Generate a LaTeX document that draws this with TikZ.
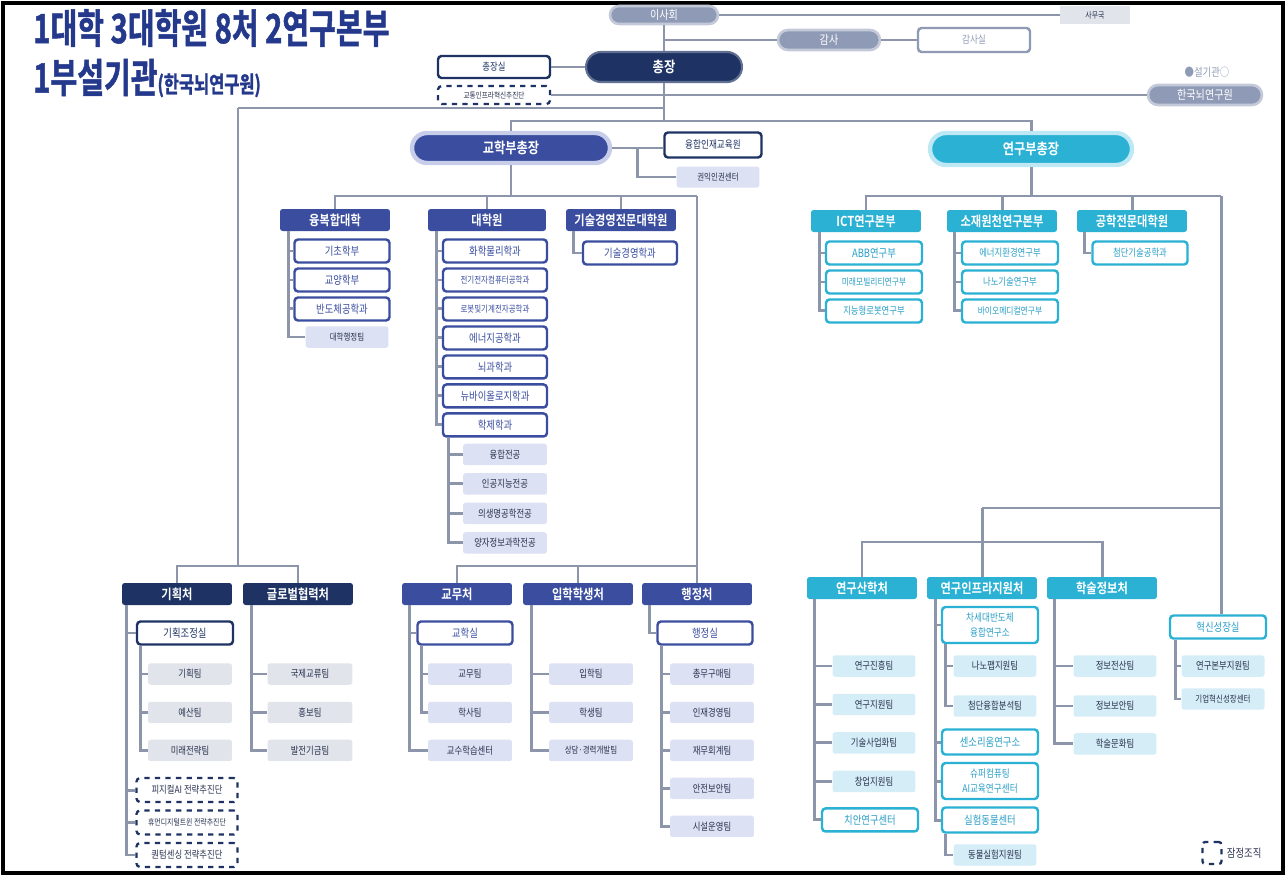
\documentclass[tikz,border=0pt]{standalone}
\usepackage{fontspec}
\setmainfont{Noto Sans CJK KR}[BoldFont={Noto Sans CJK KR Bold},FakeStretch=0.82]
\newfontfamily\titlefont{Noto Sans CJK KR Bold}[FakeStretch=0.72,FakeBold=1.2]
\usetikzlibrary{positioning}
\newcommand{\fsz}[1]{\fontsize{#1pt}{#1pt}\selectfont}
\definecolor{navy}{HTML}{1E3363}
\definecolor{royal}{HTML}{3A4D9F}
\definecolor{royalrim}{HTML}{C8CDEA}
\definecolor{cyanbox}{HTML}{2AB1D4}
\definecolor{cyanrim}{HTML}{BDE8F4}
\definecolor{cyantext}{HTML}{2A9FC6}
\definecolor{linegray}{HTML}{8C95AA}
\definecolor{pillgray}{HTML}{8F9BB6}
\definecolor{pillrim}{HTML}{C3C9D8}
\definecolor{lav}{HTML}{DCE1F3}
\definecolor{palegray}{HTML}{E1E4EA}
\definecolor{palecyan}{HTML}{D4EDF6}
\definecolor{titleblue}{HTML}{24398C}
\definecolor{darktext}{HTML}{2A3350}
\tikzstyle{graypill} = [rectangle, rounded corners=0.18cm, fill=pillgray, draw=pillrim, line width=1.5pt, text=white, font=\fsz{7}, inner sep=0pt, minimum height=0.38cm]
\tikzstyle{navyhead} = [rectangle, rounded corners=1.5pt, minimum width=2.2cm, minimum height=0.44cm, inner sep=0pt, fill=navy, text=white, font=\fsz{7.8}\bfseries]
\tikzstyle{bluehead} = [navyhead, fill=royal]
\tikzstyle{cyanhead} = [navyhead, fill=cyanbox]
\tikzstyle{dept} = [rectangle, rounded corners=2pt, minimum width=1.9cm, minimum height=0.46cm, inner sep=0pt, draw=royal, line width=1.4pt, fill=white, text=royal, font=\fsz{6.5}]
\tikzstyle{navydept} = [dept, draw=navy, text=navy]
\tikzstyle{cyandept} = [dept, draw=cyanbox, text=cyantext, minimum width=1.92cm]
\tikzstyle{lavteam} = [rectangle, rounded corners=1.5pt, minimum width=1.68cm, minimum height=0.43cm, inner sep=0pt, fill=lav, text=darktext, font=\fsz{5.8}]
\tikzstyle{grayteam} = [lavteam, fill=palegray]
\tikzstyle{cyanteam} = [lavteam, fill=palecyan, minimum width=1.66cm]
\tikzstyle{tempunit} = [rectangle, rounded corners=2pt, minimum width=2.02cm, minimum height=0.48cm, inner sep=0pt, draw=navy, dashed, line width=1.3pt, fill=white, text=darktext, font=\fsz{5.8}]
\tikzstyle{link} = [draw=linegray, line width=1.7pt]

\begin{document}
\begin{tikzpicture}[x=0.02cm, y=-0.02cm, node distance=0.58cm]
\useasboundingbox (0,0) rectangle (1286,876);
\draw [line width=0.08cm] (3,3) rectangle (1283,873);

% title
\node (title1) [anchor=west, inner sep=0pt, text=titleblue, font=\titlefont\fsz{23}] at (33,28) {1대학 3대학원 8처 2연구본부};
\node (title2) [anchor=west, inner sep=0pt, text=titleblue, font=\titlefont\fsz{23}] at (33,78) {1부설기관{\fsz{13}(한국뇌연구원)}};

% governance
\node (isahoe) [graypill, minimum width=2.16cm, minimum height=0.36cm] at (664,15) {이사회};
\node (samuguk) [rectangle, fill=palegray, minimum width=1.4cm, minimum height=0.36cm, inner sep=0pt, text=darktext, font=\fsz{4.8}] at (1095,15) {사무국};
\node (gamsa) [graypill, minimum width=2.04cm, minimum height=0.4cm, rounded corners=0.2cm] at (829,40) {감사};
\node (gamsasil) [rectangle, rounded corners=2pt, draw=pillgray, line width=1.4pt, fill=white, minimum width=2.24cm, minimum height=0.48cm, inner sep=0pt, text=pillgray, font=\fsz{6}] at (974,40) {감사실};
\node (chongjang) [rectangle, rounded corners=0.3cm, fill=navy, draw=navy!70, line width=1.2pt, minimum width=3.12cm, minimum height=0.6cm, inner sep=0pt, text=white, font=\fsz{8.5}\bfseries] at (664,67) {총장};
\node (chongjangsil) [navydept, minimum width=2.24cm, minimum height=0.44cm, font=\fsz{5.8}] at (494,67) {총장실};
\node (gyotong) [tempunit, minimum width=2.24cm, minimum height=0.36cm, font=\fsz{4.6}] at (494,95) {교통인프라혁신추진단};
\node (buseol) [text=pillgray, font=\fsz{6.5}] at (1207,72) {●설기관○};
\node (brain) [graypill, minimum width=2.28cm, minimum height=0.4cm, rounded corners=0.2cm] at (1205,95) {한국뇌연구원};
\coordinate (leftturn) at (238,108);
\coordinate (vpbar) at (664,121);

% vice presidents
\node (gyohak) [rectangle, rounded corners=0.3cm, fill=royal, draw=royalrim, line width=2.5pt, minimum width=3.96cm, minimum height=0.6cm, inner sep=0pt, text=white, font=\fsz{8.5}\bfseries] at (511,148) {교학부총장};
\node (yunghap) [navydept, minimum width=1.94cm, minimum height=0.5cm, font=\fsz{6}] at (713,145) {융합인재교육원};
\node (gwonik) [lavteam, minimum width=1.66cm, minimum height=0.42cm, font=\fsz{5.2}] at (718,177) {권익인권센터};
\node (yeongu) [rectangle, rounded corners=0.32cm, fill=cyanbox, draw=cyanrim, line width=2.5pt, minimum width=4.04cm, minimum height=0.64cm, inner sep=0pt, text=white, font=\fsz{8.5}\bfseries] at (1031,149) {연구부총장};
\coordinate (acright) at (697,196);
\coordinate (rsbar) at (1221,196);

% academic units
\node (ughap) [bluehead] at (335,220) {융복합대학};
\node (gradsch) [bluehead, minimum width=2.36cm] at (487,220) {대학원};
\node (mot) [bluehead] at (621,220) {기술경영전문대학원};
\node (gicho) [dept] at (342,251) {기초학부};
\node (gyoyang) [dept, below of=gicho] {교양학부};
\node (bando) [dept, below of=gyoyang] {반도체공학과};
\node (daehaeng) [lavteam, minimum width=1.66cm, font=\fsz{5.2}] at (347,337) {대학행정팀};
\node (hwamul) [dept, minimum width=2.08cm] at (495,251) {화학물리학과};
\node (jeongi) [dept, minimum width=2.08cm, font=\fsz{5.2}, below of=hwamul] {전기전자컴퓨터공학과};
\node (robot) [dept, minimum width=2.08cm, font=\fsz{5.2}, below of=jeongi] {로봇및기계전자공학과};
\node (energy) [dept, minimum width=2.08cm, below of=robot] {에너지공학과};
\node (noegwa) [dept, minimum width=2.08cm, below of=energy] {뇌과학과};
\node (newbio) [dept, minimum width=2.08cm, below of=noegwa] {뉴바이올로지학과};
\node (hakje) [dept, minimum width=2.08cm, below of=newbio] {학제학과};
\node (yunghapjg) [lavteam, node distance=0.59cm, below of=hakje, xshift=0.2cm] {융합전공};
\node (aijg) [lavteam, node distance=0.59cm, below of=yunghapjg] {인공지능전공};
\node (biojg) [lavteam, node distance=0.59cm, below of=aijg] {의생명공학전공};
\node (quantumjg) [lavteam, node distance=0.59cm, below of=biojg] {양자정보과학전공};
\node (mgmt) [dept, minimum width=1.88cm] at (630,253) {기술경영학과};

% research units
\node (ict) [cyanhead] at (866,221) {ICT연구본부};
\node (sojae) [cyanhead] at (1002,221) {소재원천연구본부};
\node (gongjeon) [cyanhead] at (1132,221) {공학전문대학원};
\node (abb) [cyandept] at (874,253) {ABB연구부};
\node (mobility) [cyandept, font=\fsz{5.4}, below of=abb] {미래모빌리티연구부};
\node (robotlab) [cyandept, font=\fsz{5.8}, below of=mobility] {지능형로봇연구부};
\node (enviro) [cyandept, font=\fsz{5.8}] at (1010,253) {에너지환경연구부};
\node (nanotech) [cyandept, font=\fsz{5.8}, below of=enviro] {나노기술연구부};
\node (biomed) [cyandept, font=\fsz{5.4}, below of=nanotech] {바이오메디컬연구부};
\node (cheomdan) [cyandept, minimum width=1.9cm, font=\fsz{5.8}] at (1140,253) {첨단기술공학과};

% planning and global
\node (gihoek) [navyhead] at (177,594) {기획처};
\node (globalhq) [navyhead] at (298,594) {글로벌협력처};
\node (gijo) [navydept, minimum width=1.92cm] at (185,633) {기획조정실};
\node (gihoekteam) [grayteam] at (190,674) {기획팀};
\node (yesan) [grayteam, node distance=0.77cm, below of=gihoekteam] {예산팀};
\node (mirae) [grayteam, node distance=0.76cm, below of=yesan] {미래전략팀};
\node (physai) [tempunit] at (187,790) {피지컬AI 전략추진단};
\node (human) [tempunit, font=\fsz{4.8}, node distance=0.65cm, below of=physai] {휴먼디지털트윈 전략추진단};
\node (quantum) [tempunit, node distance=0.65cm, below of=human] {퀀텀센싱 전략추진단};
\node (gukje) [grayteam, minimum width=1.7cm] at (310,674) {국제교류팀};
\node (hongbo) [grayteam, minimum width=1.7cm, node distance=0.77cm, below of=gukje] {홍보팀};
\node (baljeon) [grayteam, minimum width=1.7cm, node distance=0.76cm, below of=hongbo] {발전기금팀};

% academic affairs, students, administration
\node (gyomu) [bluehead] at (457,594) {교무처};
\node (ipshak) [bluehead] at (578,594) {입학학생처};
\node (haengjeong) [bluehead] at (697,594) {행정처};
\node (gyohaksil) [dept] at (465,633) {교학실};
\node (gyomuteam) [lavteam] at (470,674) {교무팀};
\node (haksa) [lavteam, node distance=0.77cm, below of=gyomuteam] {학사팀};
\node (gyosu) [lavteam, node distance=0.76cm, below of=haksa] {교수학습센터};
\node (ipak) [lavteam] at (591,674) {입학팀};
\node (student) [lavteam, node distance=0.77cm, below of=ipak] {학생팀};
\node (sangdam) [lavteam, font=\fsz{5.2}, node distance=0.76cm, below of=student] {상담·경력개발팀};
\node (haengjeongsil) [dept] at (705,633) {행정실};
\node (chongmu) [lavteam] at (712,674) {총무구매팀};
\node (injae) [lavteam, node distance=0.77cm, below of=chongmu] {인재경영팀};
\node (jaemu) [lavteam, node distance=0.76cm, below of=injae] {재무회계팀};
\node (anjeon) [lavteam, node distance=0.76cm, below of=jaemu] {안전보안팀};
\node (siseol) [lavteam, node distance=0.76cm, below of=anjeon] {시설운영팀};

% research support
\node (sanhak) [cyanhead] at (862,588) {연구산학처};
\node (infra) [cyanhead] at (982,588) {연구인프라지원처};
\node (haksul) [cyanhead] at (1102,588) {학술정보처};
\node (hyeoksin) [cyandept] at (1218,627) {혁신성장실};
\node (jinheung) [cyanteam] at (874,666) {연구진흥팀};
\node (jiwon) [cyanteam, node distance=0.77cm, below of=jinheung] {연구지원팀};
\node (gisul) [cyanteam, node distance=0.77cm, below of=jiwon] {기술사업화팀};
\node (changup) [cyanteam, node distance=0.77cm, below of=gisul] {창업지원팀};
\node (chian) [cyandept, node distance=0.77cm, below of=changup, xshift=-0.08cm] {치안연구센터};
\node (chasedae) [cyandept, minimum height=0.72cm, align=center, font={\fontsize{6pt}{8.5pt}\selectfont}] at (990,625) {차세대반도체\\융합연구소};
\node (nanofab) [cyanteam] at (995,666) {나노팹지원팀};
\node (bunseok) [cyanteam, node distance=0.8cm, below of=nanofab] {첨단융합분석팀};
\node (sensorium) [cyandept, minimum height=0.5cm] at (990,742) {센소리움연구소};
\node (supercom) [cyandept, minimum height=0.72cm, align=center, font={\fontsize{6pt}{8.5pt}\selectfont}] at (990,781) {슈퍼컴퓨팅\\AI교육연구센터};
\node (animal) [cyandept, minimum height=0.5cm] at (990,820) {실험동물센터};
\node (animalteam) [cyanteam, node distance=0.7cm, below of=animal, xshift=0.1cm] {동물실험지원팀};
\node (jeongbo) [cyanteam] at (1115,666) {정보전산팀};
\node (boan) [cyanteam, node distance=0.8cm, below of=jeongbo] {정보보안팀};
\node (munhwa) [cyanteam, node distance=0.76cm, below of=boan] {학술문화팀};
\node (bonbu) [cyanteam] at (1223,666) {연구본부지원팀};
\node (gieop) [cyanteam, font=\fsz{5.2}, node distance=0.66cm, below of=bonbu] {기업혁신성장센터};
\coordinate (planhub) at (238,566);
\coordinate (adminbar) at (697,566);
\coordinate (suphub) at (982,508);
\coordinate (supbar) at (982,542);

% legend
\node (legendbox) [rectangle, draw=navy, dashed, line width=1.3pt, rounded corners=1.5pt, minimum width=0.38cm, minimum height=0.44cm, inner sep=0pt] at (1212,853) {};
\node (legend) [right=0.08cm of legendbox, inner sep=0pt, text=darktext, font=\fsz{6.5}] {잠정조직};

% top links
\draw [link] (isahoe) -- (samuguk);
\draw [link] (isahoe) -- (chongjang);
\draw [link] (gamsa.west) -- (gamsa -| isahoe);
\draw [link] (gamsa) -- (gamsasil);
\draw [link] (chongjangsil) -- (chongjang);
\draw [link] (gyotong) -- (brain);
\draw [link] (chongjang) -- (vpbar);
\draw [link] (leftturn) -- (leftturn -| chongjang);
\draw [link] (gyohak.north) |- (vpbar) -| (yeongu.north);
\draw [link] (gyohak.east) -- (gyohak.east -| yunghap.west);
\draw [link] ([xshift=0.5cm]gyohak.east) |- (gwonik.west);

% academic links
\draw [link] (gyohak) -- (gyohak |- acright);
\draw [link] (ughap.north) |- (acright);
\draw [link] (gradsch.north) -- (gradsch.north |- acright);
\draw [link] (mot.north) -- (mot.north |- acright);
\draw [link] (acright) -- (haengjeong.north);
\draw [link] ([xshift=0.17cm]ughap.south west) |- (gicho.west);
\draw [link] ([xshift=0.17cm]ughap.south west) |- (gyoyang.west);
\draw [link] ([xshift=0.17cm]ughap.south west) |- (bando.west);
\draw [link] ([xshift=0.17cm]ughap.south west) |- (daehaeng.west);
\draw [link] ([xshift=0.18cm]gradsch.south west) |- (hwamul.west);
\draw [link] ([xshift=0.18cm]gradsch.south west) |- (jeongi.west);
\draw [link] ([xshift=0.18cm]gradsch.south west) |- (robot.west);
\draw [link] ([xshift=0.18cm]gradsch.south west) |- (energy.west);
\draw [link] ([xshift=0.18cm]gradsch.south west) |- (noegwa.west);
\draw [link] ([xshift=0.18cm]gradsch.south west) |- (newbio.west);
\draw [link] ([xshift=0.18cm]gradsch.south west) |- (hakje.west);
\draw [link] ([xshift=0.14cm]hakje.south west) |- (yunghapjg.west);
\draw [link] ([xshift=0.14cm]hakje.south west) |- (aijg.west);
\draw [link] ([xshift=0.14cm]hakje.south west) |- (biojg.west);
\draw [link] ([xshift=0.14cm]hakje.south west) |- (quantumjg.west);
\draw [link] ([xshift=0.16cm]mot.south west) |- (mgmt.west);

% research links
\draw [link] (yeongu) -- (yeongu |- rsbar);
\draw [link] (ict.north) |- (rsbar);
\draw [link] (sojae.north) -- (sojae.north |- rsbar);
\draw [link] (gongjeon.north) -- (gongjeon.north |- rsbar);
\draw [link] (rsbar) -- (rsbar |- hyeoksin.north);
\draw [link] ([xshift=0.18cm]ict.south west) |- (abb.west);
\draw [link] ([xshift=0.18cm]ict.south west) |- (mobility.west);
\draw [link] ([xshift=0.18cm]ict.south west) |- (robotlab.west);
\draw [link] ([xshift=0.16cm]sojae.south west) |- (enviro.west);
\draw [link] ([xshift=0.16cm]sojae.south west) |- (nanotech.west);
\draw [link] ([xshift=0.16cm]sojae.south west) |- (biomed.west);
\draw [link] ([xshift=0.16cm]gongjeon.south west) |- (cheomdan.west);

% planning links
\draw [link] (leftturn) -- (planhub);
\draw [link] (gihoek.north) |- (planhub) -| (globalhq.north);
\draw [link] ([xshift=0.1cm]gihoek.south west) |- (gijo.west);
\draw [link] ([xshift=0.1cm]gihoek.south west) |- (physai.west);
\draw [link] ([xshift=0.1cm]gihoek.south west) |- (human.west);
\draw [link] ([xshift=0.1cm]gihoek.south west) |- (quantum.west);
\draw [link] ([xshift=0.1cm]gijo.south west) |- (gihoekteam.west);
\draw [link] ([xshift=0.1cm]gijo.south west) |- (yesan.west);
\draw [link] ([xshift=0.1cm]gijo.south west) |- (mirae.west);
\draw [link] ([xshift=0.18cm]globalhq.south west) |- (gukje.west);
\draw [link] ([xshift=0.18cm]globalhq.south west) |- (hongbo.west);
\draw [link] ([xshift=0.18cm]globalhq.south west) |- (baljeon.west);

% administration links
\draw [link] (gyomu.north) |- (adminbar);
\draw [link] (ipshak.north) -- (ipshak.north |- adminbar);
\draw [link] ([xshift=0.16cm]gyomu.south west) |- (gyohaksil.west);
\draw [link] ([xshift=0.16cm]gyomu.south west) |- (gyosu.west);
\draw [link] ([xshift=0.1cm]gyohaksil.south west) |- (gyomuteam.west);
\draw [link] ([xshift=0.1cm]gyohaksil.south west) |- (haksa.west);
\draw [link] ([xshift=0.18cm]ipshak.south west) |- (ipak.west);
\draw [link] ([xshift=0.18cm]ipshak.south west) |- (student.west);
\draw [link] ([xshift=0.18cm]ipshak.south west) |- (sangdam.west);
\draw [link] ([xshift=0.16cm]haengjeong.south west) |- (haengjeongsil.west);
\draw [link] ([xshift=0.1cm]haengjeongsil.south west) |- (chongmu.west);
\draw [link] ([xshift=0.1cm]haengjeongsil.south west) |- (injae.west);
\draw [link] ([xshift=0.1cm]haengjeongsil.south west) |- (jaemu.west);
\draw [link] ([xshift=0.1cm]haengjeongsil.south west) |- (anjeon.west);
\draw [link] ([xshift=0.1cm]haengjeongsil.south west) |- (siseol.west);

% research support links
\draw [link] (suphub) -- (suphub -| rsbar);
\draw [link] (suphub) -- (infra.north);
\draw [link] (sanhak.north) |- (supbar) -| (haksul.north);
\draw [link] ([xshift=0.16cm]sanhak.south west) |- (jinheung.west);
\draw [link] ([xshift=0.16cm]sanhak.south west) |- (jiwon.west);
\draw [link] ([xshift=0.16cm]sanhak.south west) |- (gisul.west);
\draw [link] ([xshift=0.16cm]sanhak.south west) |- (changup.west);
\draw [link] ([xshift=0.16cm]sanhak.south west) |- (chian.west);
\draw [link] ([xshift=0.18cm]infra.south west) |- (chasedae.west);
\draw [link] ([xshift=0.18cm]infra.south west) |- (sensorium.west);
\draw [link] ([xshift=0.18cm]infra.south west) |- (supercom.west);
\draw [link] ([xshift=0.18cm]infra.south west) |- (animal.west);
\draw [link] ([xshift=0.1cm]chasedae.south west) |- (nanofab.west);
\draw [link] ([xshift=0.1cm]chasedae.south west) |- (bunseok.west);
\draw [link] ([xshift=0.1cm]animal.south west) |- (animalteam.west);
\draw [link] ([xshift=0.16cm]haksul.south west) |- (jeongbo.west);
\draw [link] ([xshift=0.16cm]haksul.south west) |- (boan.west);
\draw [link] ([xshift=0.16cm]haksul.south west) |- (munhwa.west);
\draw [link] ([xshift=0.13cm]hyeoksin.south west) |- (bonbu.west);
\draw [link] ([xshift=0.13cm]hyeoksin.south west) |- (gieop.west);
\end{tikzpicture}
\end{document}
